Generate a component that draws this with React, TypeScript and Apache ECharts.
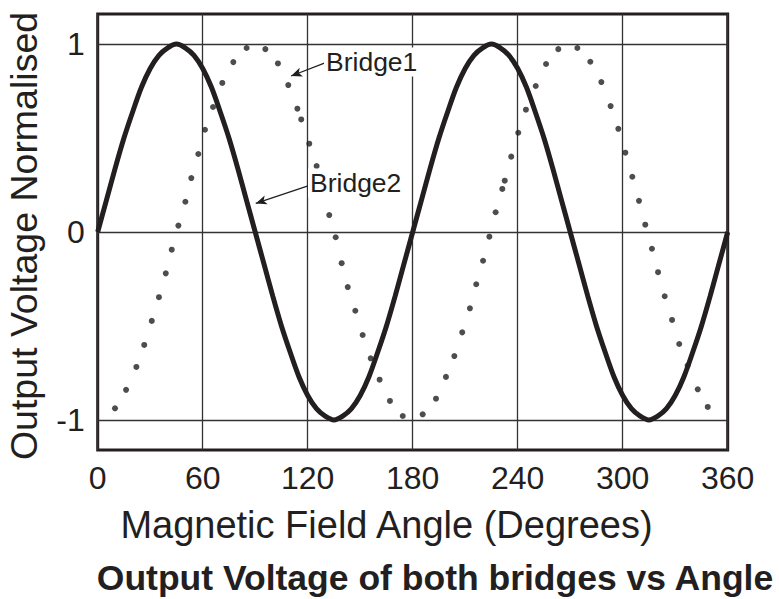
import React, { useEffect, useRef } from "react";
import * as echarts from "echarts";

// Axis ticks
const angleTicks = [0, 60, 120, 180, 240, 300, 360];
const voltageTicks = [-1, 0, 1];

// Bridge2 (solid line) read every 5 degrees
const bridge2Angles = [
  0, 5, 10, 15, 20, 25, 30, 35, 40, 45, 50, 55, 60, 65, 70, 75, 80, 85, 90,
  95, 100, 105, 110, 115, 120, 125, 130, 135, 140, 145, 150, 155, 160, 165, 170, 175, 180,
  185, 190, 195, 200, 205, 210, 215, 220, 225, 230, 235, 240, 245, 250, 255, 260, 265, 270,
  275, 280, 285, 290, 295, 300, 305, 310, 315, 320, 325, 330, 335, 340, 345, 350, 355, 360,
];
const bridge2Values = [
  0, 0.17, 0.34, 0.5, 0.64, 0.77, 0.87, 0.94, 0.98, 1.0, 0.98, 0.94, 0.87, 0.77, 0.64, 0.5, 0.34, 0.17, 0,
  -0.17, -0.34, -0.5, -0.64, -0.77, -0.87, -0.94, -0.98, -1.0, -0.98, -0.94, -0.87, -0.77, -0.64, -0.5, -0.34, -0.17, 0,
  0.17, 0.34, 0.5, 0.64, 0.77, 0.87, 0.94, 0.98, 1.0, 0.98, 0.94, 0.87, 0.77, 0.64, 0.5, 0.34, 0.17, 0,
  -0.17, -0.34, -0.5, -0.64, -0.77, -0.87, -0.94, -0.98, -1.0, -0.98, -0.94, -0.87, -0.77, -0.64, -0.5, -0.34, -0.17, 0,
];

// Bridge1 (dotted) — individual dots
const bridge1Angles = [
  9.9, 16.2, 22.1, 26.6, 30.9, 35.0, 38.9, 42.3, 46.1, 50.1, 53.5, 57.5, 61.3, 65.9, 71.2, 77.5, 85.1,
  95.8, 103.0, 108.9, 114.1, 116.3, 120.9, 125.1, 132.3, 136.0, 139.4, 142.9, 147.2, 151.4, 156.0,
  161.1, 167.0, 174.3, 185.7, 193.3, 199.0, 203.8, 208.3, 212.7, 216.3, 220.2, 223.8, 227.4, 231.2,
  232.6, 236.3, 240.3, 244.7, 250.3, 256.2, 263.2, 274.1, 281.5, 287.8, 293.1, 297.5, 301.5, 305.5,
  309.3, 312.9, 316.7, 320.2, 324.0, 328.2, 332.3, 337.1, 342.9, 348.6,
];
const bridge1Values = [
  -0.938, -0.84, -0.718, -0.601, -0.473, -0.347, -0.22, -0.094, 0.034, 0.161, 0.287, 0.415, 0.544, 0.665, 0.793, 0.904, 0.979,
  0.973, 0.897, 0.782, 0.656, 0.599, 0.47, 0.351, 0.09, -0.028, -0.166, -0.293, -0.419, -0.548, -0.672,
  -0.786, -0.899, -0.979, -0.97, -0.887, -0.771, -0.66, -0.534, -0.406, -0.278, -0.153, -0.025, 0.105, 0.229,
  0.273, 0.401, 0.528, 0.651, 0.777, 0.894, 0.973, 0.979, 0.906, 0.798, 0.67, 0.549, 0.422, 0.294,
  0.166, 0.039, -0.089, -0.214, -0.342, -0.468, -0.596, -0.711, -0.837, -0.931,
];

// Annotation arrows (data coordinates): [fromAngle, fromValue, toAngle, toValue]
const bridge1Arrow = [129.9, 0.9, 110.5, 0.83];
const bridge2Arrow = [120.2, 0.245, 90.3, 0.152];

const INK = "#231f20";
const FONT = "Liberation Sans, Arial, Helvetica, sans-serif";

export default function App() {
  const ref = useRef<HTMLDivElement>(null);

  useEffect(() => {
    if (!ref.current) return;
    const chart = echarts.init(ref.current, undefined, { renderer: "svg" });

    const option: any = {
      animation: false,
      backgroundColor: "#ffffff",
      textStyle: { fontFamily: FONT },
      grid: {
        left: 97.7,
        right: 51.3,
        top: 14,
        bottom: 149,
        show: true,
        borderColor: INK,
        borderWidth: 3,
        backgroundColor: "transparent",
      },
      xAxis: {
        type: "value",
        min: 0,
        max: 360,
        interval: 60,
        axisLine: { show: false },
        axisTick: { show: false },
        splitLine: { show: true, lineStyle: { color: "#333333", width: 1.3 } },
        axisLabel: {
          fontSize: 32,
          color: INK,
          margin: 12,
          fontFamily: FONT,
          customValues: angleTicks,
        },
      },
      yAxis: {
        type: "value",
        min: -1.16,
        max: 1.16,
        axisLine: { show: false },
        axisTick: { show: false, customValues: voltageTicks },
        splitLine: { show: true, lineStyle: { color: "#333333", width: 1.3 } },
        axisLabel: {
          fontSize: 32,
          color: INK,
          margin: 13,
          fontFamily: FONT,
          customValues: voltageTicks,
        },
      },
      series: [
        {
          name: "Bridge1",
          type: "scatter",
          symbol: "circle",
          symbolSize: 6,
          itemStyle: { color: INK },
          data: bridge1Angles.map((a, i) => [a, bridge1Values[i]]),
          z: 3,
        },
        {
          name: "Bridge2",
          type: "line",
          smooth: 0.3,
          showSymbol: false,
          lineStyle: { color: INK, width: 5 },
          data: bridge2Angles.map((a, i) => [a, bridge2Values[i]]),
          z: 4,
          markLine: {
            silent: true,
            symbol: ["none", "arrow"],
            symbolSize: [7, 11],
            label: { show: false },
            lineStyle: { color: INK, width: 1.3, type: "solid" },
            data: [
              [
                { coord: [bridge1Arrow[0], bridge1Arrow[1]] },
                { coord: [bridge1Arrow[2], bridge1Arrow[3]] },
              ],
              [
                { coord: [bridge2Arrow[0], bridge2Arrow[1]] },
                { coord: [bridge2Arrow[2], bridge2Arrow[3]] },
              ],
            ],
          },
        },
      ],
      graphic: [
        {
          type: "text",
          x: 24,
          y: 236,
          rotation: Math.PI / 2,
          z: 100,
          style: {
            text: "Output Voltage Normalised",
            font: `37.5px ${FONT}`,
            fill: INK,
            textAlign: "center",
            textVerticalAlign: "middle",
          },
        },
        {
          type: "text",
          x: 386.5,
          y: 525,
          z: 100,
          style: {
            text: "Magnetic Field Angle (Degrees)",
            font: `38px ${FONT}`,
            fill: INK,
            textAlign: "center",
            textVerticalAlign: "middle",
          },
        },
        {
          type: "text",
          x: 435,
          y: 578,
          z: 100,
          style: {
            text: "Output Voltage of both bridges vs Angle",
            font: `bold 35.5px ${FONT}`,
            fill: INK,
            textAlign: "center",
            textVerticalAlign: "middle",
          },
        },
        {
          type: "text",
          x: 324,
          y: 62,
          z: 100,
          style: {
            text: "Bridge1",
            font: `26.5px ${FONT}`,
            fill: INK,
            textAlign: "left",
            textVerticalAlign: "middle",
            backgroundColor: "#ffffff",
            padding: [1, 2, 1, 2],
          },
        },
        {
          type: "text",
          x: 308,
          y: 183,
          z: 100,
          style: {
            text: "Bridge2",
            font: `26.5px ${FONT}`,
            fill: INK,
            textAlign: "left",
            textVerticalAlign: "middle",
            backgroundColor: "#ffffff",
            padding: [1, 2, 1, 2],
          },
        },
      ],
    };

    chart.setOption(option);
    return () => chart.dispose();
  }, []);

  return (
    <div
      ref={ref}
      style={{ position: "fixed", left: 0, top: 0, width: 779, height: 599 }}
    />
  );
}
